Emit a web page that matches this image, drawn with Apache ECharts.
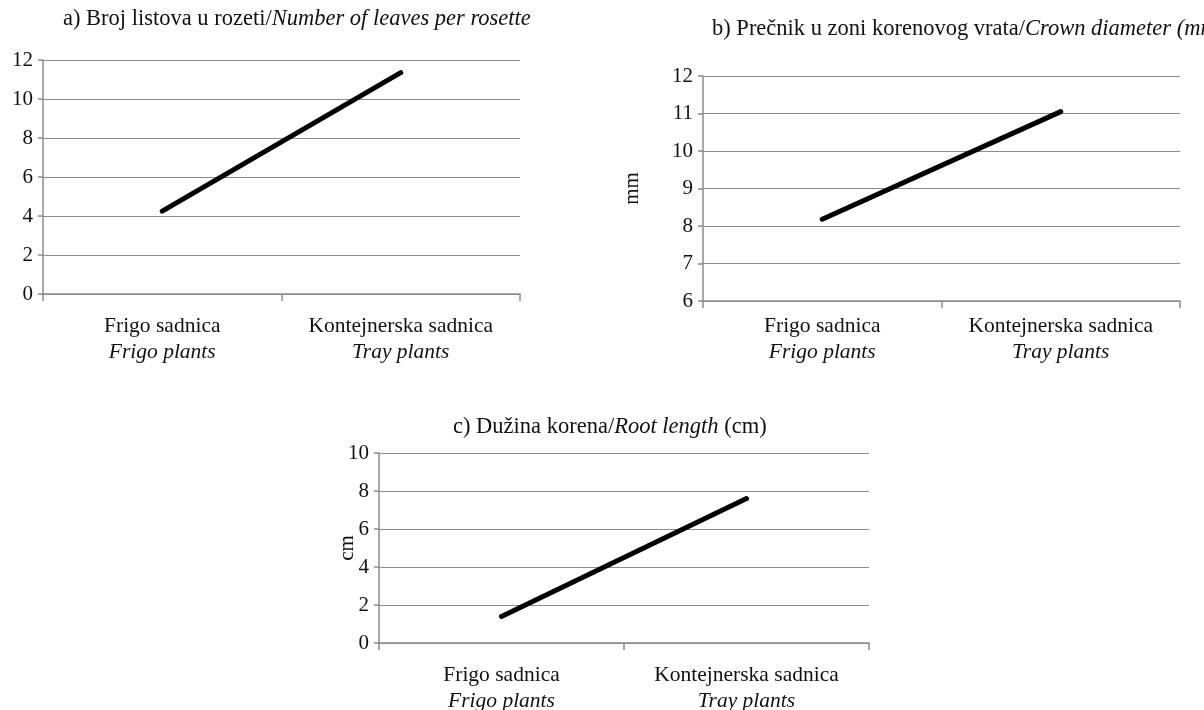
<!DOCTYPE html>
<html>
<head>
<meta charset="utf-8">
<script src="https://cdn.jsdelivr.net/npm/echarts@6/dist/echarts.min.js"></script>
<style>
  html, body { margin: 0; padding: 0; background: #fff; }
  #chart { width: 1204px; height: 710px; }
</style>
</head>
<body>
<div id="chart"></div>
<script>
// data
var categories = ["Frigo sadnica", "Kontejnerska sadnica"];
var categoriesEn = ["Frigo plants", "Tray plants"];
var leavesValues = [4.25, 11.35];   // a) broj listova
var crownValues = [8.18, 11.05];    // b) precnik (mm)
var rootValues = [1.4, 7.6];        // c) duzina korena (cm)

var font = "Liberation Serif";
var gridColor = "#8c8c8c";

var myChart = echarts.init(document.getElementById("chart"));

function xAxisFor(idx, margin) {
  return {
    type: "category",
    gridIndex: idx,
    data: categories,
    boundaryGap: true,
    axisLine: { lineStyle: { color: gridColor, width: 1.5 } },
    axisTick: { show: true, interval: 0, length: 7, lineStyle: { color: gridColor, width: 1.5 } },
    axisLabel: {
      interval: 0,
      hideOverlap: false,
      margin: margin,
      color: "#111",
      fontFamily: font,
      fontSize: 21.5,
      lineHeight: 26,
      formatter: function (v, i) {
        return v + "\n{i|" + categoriesEn[i] + "}";
      },
      rich: {
        i: { fontStyle: "italic", fontFamily: font, fontSize: 21.5, color: "#111", lineHeight: 26 }
      }
    }
  };
}

function yAxisFor(idx, min, max, interval, name, gap) {
  return {
    type: "value",
    gridIndex: idx,
    min: min,
    max: max,
    interval: interval,
    name: name,
    nameLocation: "middle",
    nameRotate: 90,
    nameGap: gap,
    nameMoveOverlap: false,
    nameTextStyle: { fontFamily: font, fontSize: 21, color: "#111" },
    axisLine: { show: true, lineStyle: { color: gridColor, width: 1.5 } },
    axisTick: { show: true, length: 5, lineStyle: { color: gridColor, width: 1.5 } },
    splitLine: { show: true, lineStyle: { color: gridColor, width: 1.2 } },
    axisLabel: { margin: 10, color: "#111", fontFamily: font, fontSize: 21 }
  };
}

function lineSeries(idx, vals) {
  return {
    type: "line",
    xAxisIndex: idx,
    yAxisIndex: idx,
    data: vals,
    symbol: "none",
    silent: true,
    lineStyle: { color: "#000", width: 5, cap: "round" }
  };
}

var titleStyle = {
  fontFamily: font,
  fontSize: 22.5,
  fontWeight: "normal",
  color: "#111",
  rich: { i: { fontStyle: "italic", fontFamily: font, fontSize: 22.5, color: "#111" } }
};

var option = {
  animation: false,
  title: [
    { text: "a) Broj listova u rozeti/{i|Number of leaves per rosette}", left: 58, top: 3, textStyle: titleStyle },
    { text: "b) Prečnik u zoni korenovog vrata/{i|Crown diameter (mm)}", left: 707, top: 13, textStyle: titleStyle },
    { text: "c) Dužina korena/{i|Root length} (cm)", left: 448, top: 411, textStyle: titleStyle }
  ],
  grid: [
    { left: 43, top: 60, width: 477, height: 234, outerBoundsMode: "none" },
    { left: 703, top: 76, width: 477, height: 225, outerBoundsMode: "none" },
    { left: 379, top: 453, width: 490, height: 190, outerBoundsMode: "none" }
  ],
  xAxis: [xAxisFor(0, 19), xAxisFor(1, 12), xAxisFor(2, 19)],
  yAxis: [
    yAxisFor(0, 0, 12, 2, "", 0),
    yAxisFor(1, 6, 12, 1, "mm", 60),
    yAxisFor(2, 0, 10, 2, "cm", 21)
  ],
  series: [
    lineSeries(0, leavesValues),
    lineSeries(1, crownValues),
    lineSeries(2, rootValues)
  ]
};

myChart.setOption(option);
</script>
</body>
</html>
